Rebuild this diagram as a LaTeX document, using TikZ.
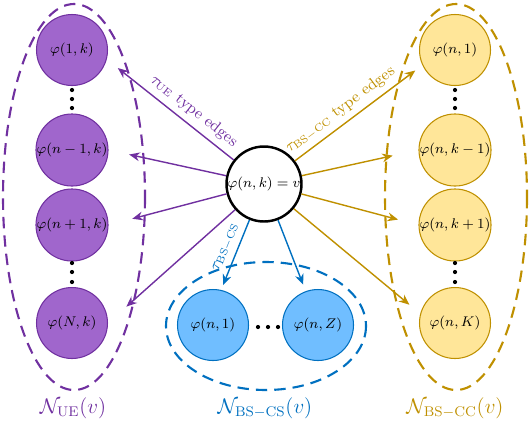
\documentclass[tikz,border=0pt]{standalone}
\usepackage{amsmath,amssymb}
\usetikzlibrary{arrows.meta,calc}
\definecolor{uepurple}{RGB}{112,48,160}
\definecolor{uefill}{RGB}{160,102,204}
\definecolor{ccgold}{RGB}{191,144,0}
\definecolor{ccfill}{RGB}{255,230,153}
\definecolor{csblue}{RGB}{0,112,192}
\definecolor{csfill}{RGB}{112,190,255}

\begin{document}
\begin{tikzpicture}[
    x=0.02cm, y=-0.02cm,
    vert/.style={draw, circle, minimum size=1.42cm, inner sep=0pt, font=\fontsize{8.5}{10}\selectfont, line width=0.6pt},
    uenode/.style={vert, draw=uepurple, fill=uefill},
    ccnode/.style={vert, draw=ccgold, fill=ccfill},
    csnode/.style={vert, draw=csblue, fill=csfill},
    hub/.style={vert, minimum size=1.5cm, line width=1.4pt, fill=white, font=\fontsize{7.8}{9}\selectfont},
    grp/.style={line width=1.2pt, dash pattern=on 6.5pt off 4pt},
    edge/.style={-{Stealth[length=6pt,width=5pt]}, line width=0.8pt},
    setlabel/.style={font=\large},
]
    \useasboundingbox (0,0) rectangle (530,420);
    % Groups
    \draw[grp, uepurple] (74,197) ellipse [x radius=71, y radius=193];
    \draw[grp, ccgold] (456,197) ellipse [x radius=71, y radius=193];
    \draw[grp, csblue] (266,326) ellipse [x radius=100, y radius=64];
    % UE neighbours
    \node[uenode] (u1) at (72,50) {$\varphi(1,k)$};
    \node[uenode] (u2) at (72,150) {$\varphi(n-1,k)$};
    \node[uenode] (u3) at (72,225) {$\varphi(n+1,k)$};
    \node[uenode] (u4) at (72,323) {$\varphi(N,k)$};
    % BS-CC neighbours
    \node[ccnode] (y1) at (455,50) {$\varphi(n,1)$};
    \node[ccnode] (y2) at (455,150) {$\varphi(n,k-1)$};
    \node[ccnode] (y3) at (455,225) {$\varphi(n,k+1)$};
    \node[ccnode] (y4) at (455,323) {$\varphi(n,K)$};
    % BS-CS neighbours
    \node[csnode] (b1) at (213,325) {$\varphi(n,1)$};
    \node[csnode] (b2) at (318,325) {$\varphi(n,Z)$};
    % Centre vertex
    \node[hub] (c) at (264,184) {$\varphi(n,k)=v$};
    % Dots
    \foreach \y in {90,99,108,263,272,282} {
        \fill (72,\y) circle (1.2pt);
        \fill (455,\y) circle (1.2pt);
    }
    \foreach \x in {258,268,278} {
        \fill (\x,327) circle (1.2pt);
    }
    % Edges
    \draw[edge, uepurple] (c) -- (u1.-15) [shorten >=8pt]
        node[pos=0.38, above, sloped, font=\small] {$\tau_{\mathrm{UE}}$ type edges};
    \draw[edge, uepurple, shorten >=12pt] (c) -- (u2.east);
    \draw[edge, uepurple, shorten >=14pt] (c) -- (u3.east);
    \draw[edge, uepurple, shorten >=14pt] (c) -- (u4.east);
    \draw[edge, ccgold, shorten >=5pt] (c) -- (y1.205)
        node[pos=0.42, above, sloped, font=\small] {$\tau_{\mathrm{BS-CC}}$ type edges};
    \draw[edge, ccgold, shorten >=15pt] (c) -- (y2.west);
    \draw[edge, ccgold, shorten >=12pt] (c) -- (y3.west);
    \draw[edge, ccgold, shorten >=8pt] (c) -- (y4.165);
    \draw[edge, csblue, shorten >=3pt] (c) -- (b1.77)
        node[pos=0.45, above, sloped, font=\small] {$\tau_{\mathrm{BS-CS}}$};
    \draw[edge, csblue, shorten >=4pt] (c) -- (b2.110);
    % Set labels
    \node[setlabel, uepurple] (lue) at (73,408) {$\mathcal{N}_{\mathrm{UE}}(v)$};
    \node[setlabel, csblue] (lcs) at (265,408) {$\mathcal{N}_{\mathrm{BS-CS}}(v)$};
    \node[setlabel, ccgold] (lcc) at (455,408) {$\mathcal{N}_{\mathrm{BS-CC}}(v)$};
\end{tikzpicture}
\end{document}
